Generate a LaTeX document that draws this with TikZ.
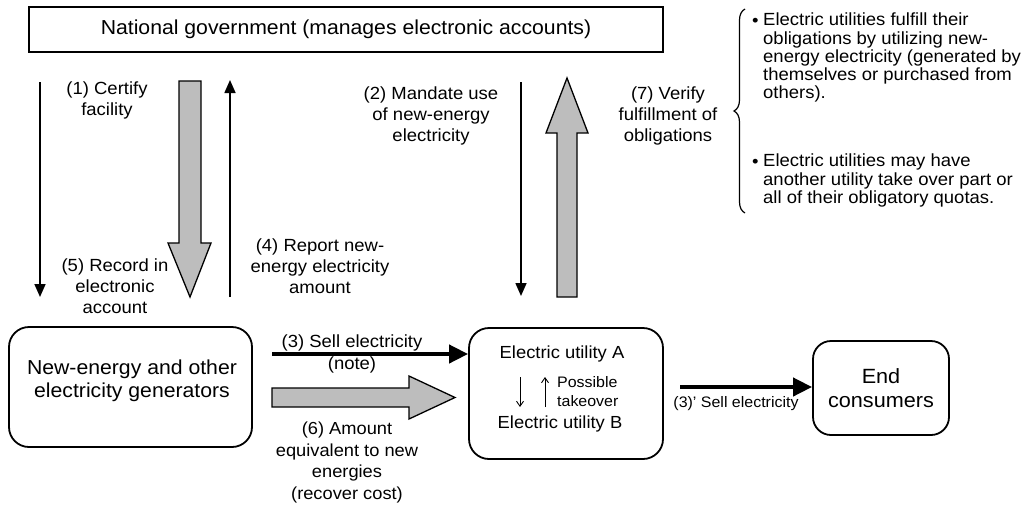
\documentclass[tikz,border=0pt]{standalone}
\usepackage{fontspec}
\setmainfont{Liberation Sans}[FakeStretch=1.05]
\usetikzlibrary{arrows.meta,decorations.pathreplacing,calc}
\begin{document}
\begin{tikzpicture}[x=1pt,y=-1pt,
  rbox/.style={draw,line width=1.8pt,rounded corners=20pt,inner sep=0pt},
  lbl/.style={align=center,font=\fontsize{17.6}{21}\selectfont,inner sep=0pt},
  thinarr/.style={line width=1.6pt,-{Triangle[width=11pt,length=13pt]}},
  thickarr/.style={line width=4pt,-{Triangle[width=18pt,length=19pt]}},
  smallarr/.style={line width=0.9pt,-{Straight Barb[width=7pt,length=5pt]}},
  block/.style={draw,line width=1.3pt,fill=black!26},
  bul/.style={align=left,anchor=north west,inner sep=0pt,font=\fontsize{17.6}{18.2}\selectfont},
  dot/.style={anchor=base west,inner sep=0pt,font=\fontsize{17.6}{18.2}\selectfont}
]
\useasboundingbox (0,0) rectangle (1028,509);

% boxes
\node[draw,line width=1.8pt,minimum width=634pt,minimum height=45pt,inner sep=0pt,
      font=\fontsize{20.2}{22}\selectfont] (gov) at (346,29.5)
      {National government (manages electronic accounts)};
\node[rbox,minimum width=243pt,minimum height=120pt] (gen) at (130.5,387) {};
\node[align=center,inner sep=0pt,font=\fontsize{20.2}{23}\selectfont] (gent) at (132,381)
      {New-energy and other\\electricity generators};
\node[rbox,minimum width=194pt,minimum height=131pt] (util) at (566,393.5) {};
\node[rbox,rounded corners=18pt,minimum width=136pt,minimum height=94pt,align=center,
      font=\fontsize{20.6}{24}\selectfont] (endc) at (881,388) {End\\consumers};

% inside utility box
\node[inner sep=0pt,font=\fontsize{17.5}{19}\selectfont] (ua) at (562,354) {Electric utility A};
\node[inner sep=0pt,font=\fontsize{17.5}{19}\selectfont] (ub) at (560,424) {Electric utility B};
\node[inner sep=0pt,align=left,anchor=west,font=\fontsize{15.2}{19}\selectfont] (pt) at (557,391.5) {Possible\\takeover};
\coordinate (tkd1) at (520,377);
\coordinate (tkd2) at (520,407);
\coordinate (tku1) at (545,407);
\coordinate (tku2) at (545,377);
\draw[smallarr] (tkd1) -- (tkd2);
\draw[smallarr] (tku1) -- (tku2);

% thin vertical arrows
\coordinate (a1s) at (40,82);   \coordinate (a1e) at (40,297);
\coordinate (a4s) at (230,297); \coordinate (a4e) at (230,80);
\coordinate (a2s) at (521,82);  \coordinate (a2e) at (521,296);
\draw[thinarr] (a1s) -- (a1e);
\draw[thinarr] (a4s) -- (a4e);
\draw[thinarr] (a2s) -- (a2e);

% block arrows
\draw[block] (179,81) -- (201,81) -- (201,243) -- (211,243) -- (190,297) -- (168,243) -- (179,243) -- cycle;
\draw[block] (557,297) -- (577,297) -- (577,133) -- (588,133) -- (567,78) -- (546,133) -- (557,133) -- cycle;
\draw[block] (272,388) -- (409,388) -- (409,376) -- (455,397.5) -- (409,419) -- (409,407) -- (272,407) -- cycle;

% horizontal arrows
\coordinate (s3) at (272,354);
\draw[thickarr] (s3) -- (util.west |- s3);
\coordinate (s3p) at (680,387);
\draw[thickarr] (s3p) -- (endc.west |- s3p);

% labels
\node[lbl] (l1) at (107,100.5) {(1) Certify\\facility};
\node[lbl] (l5) at (115,286) {(5) Record in\\electronic\\account};
\node[lbl] (l4) at (320,266) {(4) Report new-\\energy electricity\\amount};
\node[lbl] (l2) at (431,116) {(2) Mandate use\\of new-energy\\electricity};
\node[lbl] (l7) at (668,116) {(7) Verify\\fulfillment of\\obligations};
\node[lbl,font=\fontsize{17.6}{22}\selectfont] (l3) at (352,354) {(3) Sell electricity\\(note)};
\node[lbl,font=\fontsize{17.4}{21.7}\selectfont] (l6) at (347,462.5) {(6) Amount\\equivalent to new\\energies\\(recover cost)};
\node[inner sep=0pt,font=\fontsize{15.2}{17}\selectfont] (l3p) at (736,404) {(3)' Sell electricity};

% brace and notes
\draw[line width=1.2pt,decorate,decoration={brace,amplitude=11pt,aspect=0.5}] (745,213) -- (745,9);
\node[dot] (d1) at (752,26) {•};
\node[bul] (n1) at (763,13) {Electric utilities fulfill their\\obligations by utilizing new-\\energy electricity (generated by\\themselves or purchased from\\others).};
\node[dot] (d2) at (752,167) {•};
\node[bul] (n2) at (763,154) {Electric utilities may have\\another utility take over part or\\all of their obligatory quotas.};
\end{tikzpicture}
\end{document}
